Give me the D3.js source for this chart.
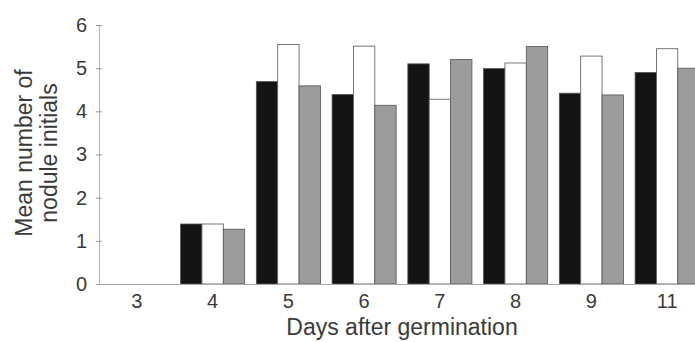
<!DOCTYPE html>
<html>
<head>
<meta charset="utf-8">
<script src="https://cdn.jsdelivr.net/npm/d3@7"></script>
<style>
  body { margin: 0; background: #fff; }
  text { font-family: "Liberation Sans", Arial, sans-serif; fill: #3a3a3a; }
</style>
</head>
<body>
<svg id="chart" width="695" height="342"></svg>
<script>
// days after germination
let days = ["3", "4", "5", "6", "7", "8", "9", "11"];

// three treatments (black, white, grey bars)
let black_vals = [0, 1.39, 4.69, 4.39, 5.10, 4.99, 4.42, 4.90];
let white_vals = [0, 1.39, 5.55, 5.51, 4.28, 5.12, 5.28, 5.45];
let grey_vals  = [0, 1.27, 4.59, 4.14, 5.20, 5.50, 4.38, 5.00];

let y_ticks = [0, 1, 2, 3, 4, 5, 6];

let series = [
    {key: "black", values: black_vals, fill: "#141414"},
    {key: "white", values: white_vals, fill: "#ffffff"},
    {key: "grey",  values: grey_vals,  fill: "#9c9c9c"}
];

let svg = d3.select("#chart");

let m_left = 99, m_right = 705, m_top = 25, m_bottom = 284;

let x = d3.scaleBand()
    .domain(days)
    .range([m_left, m_right])
    .paddingInner(0.154)
    .paddingOuter(0.077);

let xs = d3.scaleBand()
    .domain(series.map(s => s.key))
    .range([0, x.bandwidth()]);

let y = d3.scaleLinear()
    .domain([0, 6])
    .range([m_bottom, m_top]);

// bars
let groups = svg.append("g")
    .selectAll("g")
    .data(days)
    .join("g")
    .attr("transform", d => `translate(${x(d)},0)`);

groups.selectAll("rect")
    .data((d, i) => series.map(s => ({key: s.key, fill: s.fill, v: s.values[i]})).filter(b => b.v > 0))
    .join("rect")
    .attr("x", d => xs(d.key))
    .attr("y", d => y(d.v))
    .attr("width", xs.bandwidth())
    .attr("height", d => y(0) - y(d.v))
    .attr("fill", d => d.fill)
    .attr("stroke", "#555")
    .attr("stroke-width", 0.8);

// y axis
let yAxis = svg.append("g")
    .attr("transform", `translate(${m_left},0)`)
    .call(d3.axisLeft(y).tickValues(y_ticks).tickFormat(d3.format("d")).tickSize(3).tickPadding(9));
yAxis.select(".domain").attr("stroke", "#b5b5b5");
yAxis.selectAll(".tick line").attr("stroke", "#999").attr("x2", 3).attr("x1", -3);
yAxis.selectAll(".tick text").attr("font-size", 20).style("fill", "#3a3a3a");

// x axis
let xAxis = svg.append("g")
    .attr("transform", `translate(0,${m_bottom})`)
    .call(d3.axisBottom(x).tickSize(0).tickPadding(10));
xAxis.select(".domain").attr("stroke", "#aaa").attr("d", `M${m_left},0.5H695`);
xAxis.selectAll(".tick text").attr("font-size", 20).style("fill", "#3a3a3a");

// axis titles
svg.append("text")
    .attr("x", 402)
    .attr("y", 335)
    .attr("text-anchor", "middle")
    .attr("font-size", 23)
    .text("Days after germination");

let yt = svg.append("text")
    .attr("transform", "translate(0,153) rotate(-90)")
    .attr("text-anchor", "middle")
    .attr("font-size", 23);
yt.append("tspan").attr("x", 0).attr("y", 32).text("Mean number of");
yt.append("tspan").attr("x", 0).attr("y", 57).text("nodule initials");
</script>
</body>
</html>
